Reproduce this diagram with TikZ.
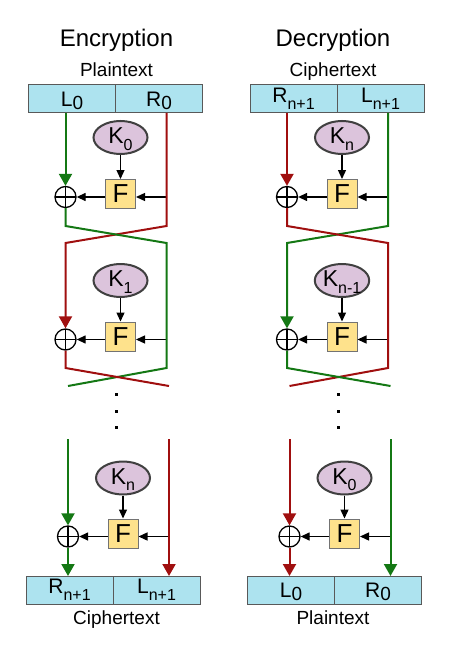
\documentclass[tikz,border=0pt]{standalone}
\usepackage{fontspec}
\setmainfont{Liberation Sans}
\usetikzlibrary{arrows.meta,shapes.geometric}

\definecolor{halfblue}{RGB}{173,227,239}
\definecolor{keypink}{RGB}{220,196,220}
\definecolor{funcyellow}{RGB}{254,226,140}
\definecolor{wiregreen}{RGB}{20,120,20}
\definecolor{wirered}{RGB}{160,15,15}

\newcommand{\bigsub}[1]{\raisebox{-3pt}[0pt][0pt]{\fontsize{19}{19}\selectfont #1}}
\newcommand{\smallsub}[1]{\raisebox{-6.5pt}{\fontsize{16}{16}\selectfont #1}}

\tikzstyle{half}=[draw=black!65, line width=1pt, fill=halfblue, minimum width=87pt, minimum height=28pt, inner sep=0pt, outer sep=0pt, font=\fontsize{21}{21}\selectfont]
\tikzstyle{key}=[ellipse, draw=black!75, line width=2pt, fill=keypink, minimum width=54pt, minimum height=33pt, inner sep=0pt, text depth=3pt, font=\fontsize{23}{23}\selectfont]
\tikzstyle{func}=[draw=black!55, line width=1pt, fill=funcyellow, minimum width=30pt, minimum height=29pt, inner sep=0pt, font=\fontsize{26}{26}\selectfont]
\tikzstyle{xor}=[circle, draw, line width=1.3pt, minimum size=21pt, inner sep=0pt, path picture={\draw[line width=1.3pt] (path picture bounding box.north) -- (path picture bounding box.south) (path picture bounding box.west) -- (path picture bounding box.east);}]
\tikzstyle{dep}=[-{Triangle[width=8pt,length=9pt]}, line width=1.3pt]
\tikzstyle{wire}=[line width=2pt]
\tikzstyle{feed}=[wire, -{Triangle[width=13pt,length=12pt]}]
\tikzstyle{heading}=[font=\fontsize{24}{24}\selectfont, anchor=base]
\tikzstyle{blocktext}=[font=\fontsize{19}{19}\selectfont, anchor=base]

\begin{document}
\begin{tikzpicture}[x=1pt,y=-1pt]
  \useasboundingbox (0,0) rectangle (450,658);
  \foreach \dx/\tx/\head/\intext/\outtext/\ca/\cb/\ia/\ib/\oa/\ob/\ka/\kb/\kc in {%
    0/116.5/Encryption/Plaintext/Ciphertext/wiregreen/wirered/{L\bigsub{0}}/{R\bigsub{0}}/{R\smallsub{n+1}}/{L\smallsub{n+1}}/0/1/n,%
    221.5/111.5/Decryption/Ciphertext/Plaintext/wirered/wiregreen/{R\smallsub{n+1}}/{L\smallsub{n+1}}/{L\bigsub{0}}/{R\bigsub{0}}/n/n-1/0} {%
  \begin{scope}[xshift=\dx, name prefix=\head-]
    \node[heading] (title) at (\tx,46.5) {\head};
    \node[blocktext] (intext) at (\tx,76.8) {\intext};
    \node[half] (inl) at (72,99) {\ia};
    \node[half, anchor=west] (inr) at (inl.east) {\ib};
    \node[half] (outl) at (69.5,590) {\oa};
    \node[half, anchor=west] (outr) at (outl.east) {\ob};
    \node[blocktext] (outtext) at (\tx,624) {\outtext};
    % one round: key, F and xor
    \foreach \rd/\kk/\ky/\fy/\s in {1/\ka/137.5/194/0, 2/\kb/280.5/336.5/0, 3/\kc/478/533.5/2.5} {%
      \node[key] (k\rd) at (120.5+\s,\ky) {K\smallsub{\kk}};
      \node[func] (f\rd) at (120.5+\s,\fy) {F};
      \node[xor] (x\rd) at (65.5+\s,\fy+3) {};
      \coordinate (t\rd) at (166.5+\s,\fy+3);
      \draw[dep] (k\rd) -- (f\rd);
      \draw[dep] (t\rd) -- (t\rd -| f\rd.east);
      \draw[dep] (f\rd.west |- x\rd) -- (x\rd);
    }
    \coordinate (a1) at (65.5,226); \coordinate (b1) at (166.5,226);
    \coordinate (a2) at (65.5,243); \coordinate (b2) at (166.5,243);
    \coordinate (a3) at (65.5,368); \coordinate (b3) at (166.5,368);
    \coordinate (a4) at (68,386);   \coordinate (b4) at (169,386);
    \coordinate (a5) at (68,439);   \coordinate (b5) at (169,439);
    \draw[feed, draw=\ca] (x1 |- inl.south) -- (x1);
    \draw[feed, draw=\cb] (t1 |- inr.south) -- (b1) -- (a2) -- (x2);
    \draw[wire, draw=\ca] (x1) -- (a1) -- (b2) -- (b3) -- (a4);
    \draw[wire, draw=\cb] (x2) -- (a3) -- (b4);
    \draw[feed, draw=\ca] (a5) -- (x3);
    \draw[feed, draw=\ca] (x3) -- (x3 |- outl.north);
    \draw[feed, draw=\cb] (b5) -- (b5 |- outr.north);
    % dots
    \foreach \y in {394,411,427.5}
      \fill (115,\y-1.5) rectangle (118,\y+1.5);
  \end{scope}
  }
\end{tikzpicture}
\end{document}
